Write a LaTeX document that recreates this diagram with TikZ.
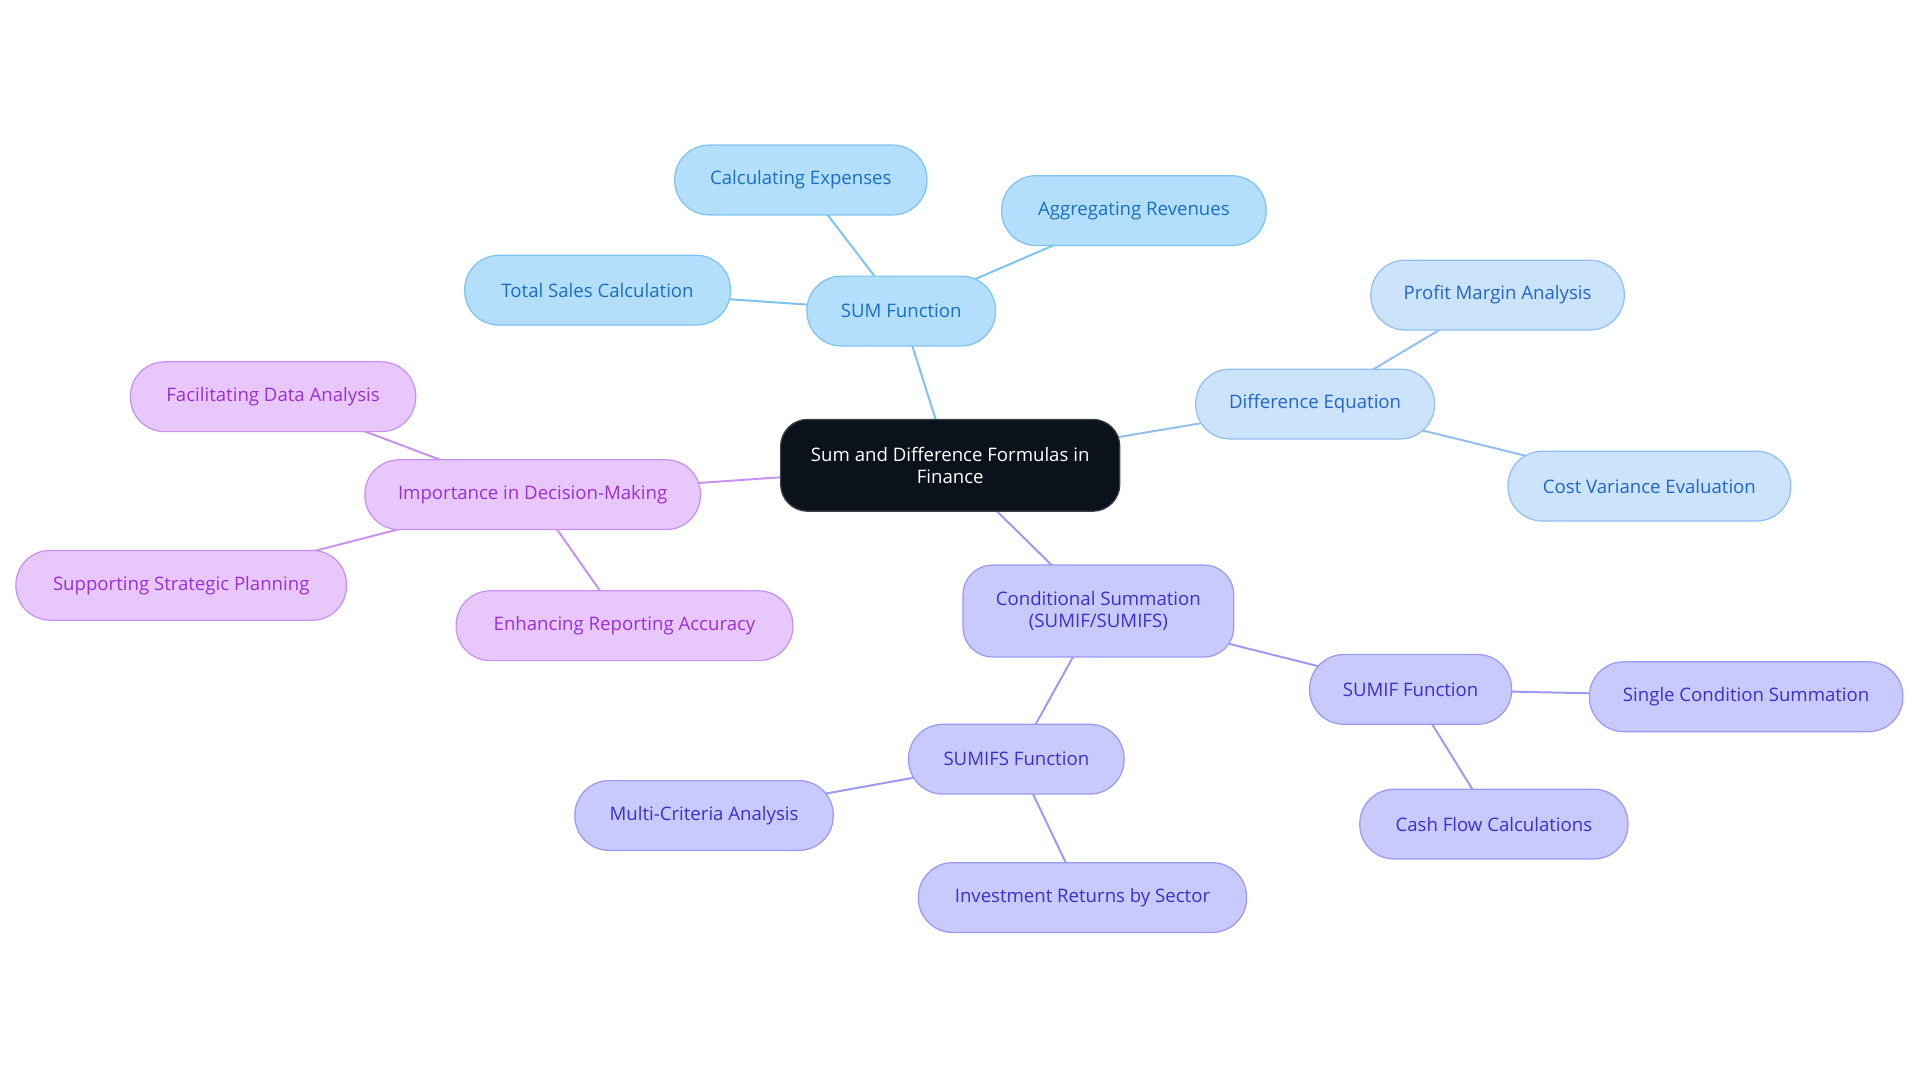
\documentclass[tikz,border=0pt]{standalone}
\usepackage{fontspec}
\setmainfont{Open Sans}
\usetikzlibrary{backgrounds}
\definecolor{rootfill}{HTML}{0C121B}
\definecolor{sumfill}{HTML}{B3DFFD}
\definecolor{sumline}{HTML}{7DC3F2}
\definecolor{sumtext}{HTML}{1A6FC0}
\definecolor{difffill}{HTML}{CCE3FC}
\definecolor{diffline}{HTML}{93BEF0}
\definecolor{difftext}{HTML}{2266C8}
\definecolor{condfill}{HTML}{C8C9FC}
\definecolor{condline}{HTML}{9A9AF0}
\definecolor{condtext}{HTML}{3A32C8}
\definecolor{impfill}{HTML}{E8C8FC}
\definecolor{impline}{HTML}{C890F0}
\definecolor{imptext}{HTML}{9A2FD6}
\tikzset{
  pill/.style={draw,rounded corners=28pt,minimum height=57pt,inner sep=0pt,
    align=center,font=\fontsize{15.2}{17.5}\selectfont,line width=1pt},
  rootbox/.style={pill,fill=rootfill,draw=rootfill!80!white,text=white,
    rounded corners=22pt,minimum height=75pt},
  sumbox/.style={pill,fill=sumfill,draw=sumline,text=sumtext},
  diffbox/.style={pill,fill=difffill,draw=diffline,text=difftext},
  condbox/.style={pill,fill=condfill,draw=condline,text=condtext},
  impbox/.style={pill,fill=impfill,draw=impline,text=imptext},
  link/.style={line width=1.6pt}
}
\begin{document}
\begin{tikzpicture}[x=1pt,y=-1pt]
    \useasboundingbox (0,0) rectangle (1568,885);
    %% root
    \node[rootbox,minimum width=277pt] (root) at (776,380) {Sum and Difference Formulas in\\Finance};
    %% SUM branch
    \node[sumbox,minimum width=154pt] (sum) at (736,254) {SUM Function};
    \node[sumbox,minimum width=206pt] (calc) at (654,147) {Calculating Expenses};
    \node[sumbox,minimum width=216pt] (aggr) at (926,172) {Aggregating Revenues};
    \node[sumbox,minimum width=217pt] (total) at (488,237) {Total Sales Calculation};
    %% difference branch
    \node[diffbox,minimum width=195pt] (diff) at (1074,330) {Difference Equation};
    \node[diffbox,minimum width=207pt] (profit) at (1223,241) {Profit Margin Analysis};
    \node[diffbox,minimum width=231pt] (cost) at (1347,397) {Cost Variance Evaluation};
    %% conditional branch
    \node[condbox,minimum width=221pt,minimum height=75pt,rounded corners=24pt] (cond) at (897,499) {Conditional Summation\\(SUMIF/SUMIFS)};
    \node[condbox,minimum width=165pt] (sumif) at (1152,563) {SUMIF Function};
    \node[condbox,minimum width=256pt] (single) at (1426,569) {Single Condition Summation};
    \node[condbox,minimum width=219pt] (cash) at (1220,673) {Cash Flow Calculations};
    \node[condbox,minimum width=176pt] (sumifs) at (830,620) {SUMIFS Function};
    \node[condbox,minimum width=211pt] (multi) at (575,666) {Multi-Criteria Analysis};
    \node[condbox,minimum width=268pt] (invest) at (884,733) {Investment Returns by Sector};
    %% importance branch
    \node[impbox,minimum width=274pt] (imp) at (435,404) {Importance in Decision-Making};
    \node[impbox,minimum width=233pt] (facil) at (223,324) {Facilitating Data Analysis};
    \node[impbox,minimum width=270pt] (supp) at (148,478) {Supporting Strategic Planning};
    \node[impbox,minimum width=275pt] (enh) at (510,511) {Enhancing Reporting Accuracy};
    %% links
    \begin{scope}[on background layer]
        \draw[link,sumline] (root.center) -- (sum.center);
        \draw[link,sumline] (sum.center) -- (calc.center);
        \draw[link,sumline] (sum.center) -- (aggr.center);
        \draw[link,sumline] (sum.center) -- (total.center);
        \draw[link,diffline] (root.center) -- (diff.center);
        \draw[link,diffline] (diff.center) -- (profit.center);
        \draw[link,diffline] (diff.center) -- (cost.center);
        \draw[link,condline] (root.center) -- (cond.center);
        \draw[link,condline] (cond.center) -- (sumif.center);
        \draw[link,condline] (sumif.center) -- (single.center);
        \draw[link,condline] (sumif.center) -- (cash.center);
        \draw[link,condline] (cond.center) -- (sumifs.center);
        \draw[link,condline] (sumifs.center) -- (multi.center);
        \draw[link,condline] (sumifs.center) -- (invest.center);
        \draw[link,impline] (root.center) -- (imp.center);
        \draw[link,impline] (imp.center) -- (facil.center);
        \draw[link,impline] (imp.center) -- (supp.center);
        \draw[link,impline] (imp.center) -- (enh.center);
    \end{scope}
\end{tikzpicture}
\end{document}
